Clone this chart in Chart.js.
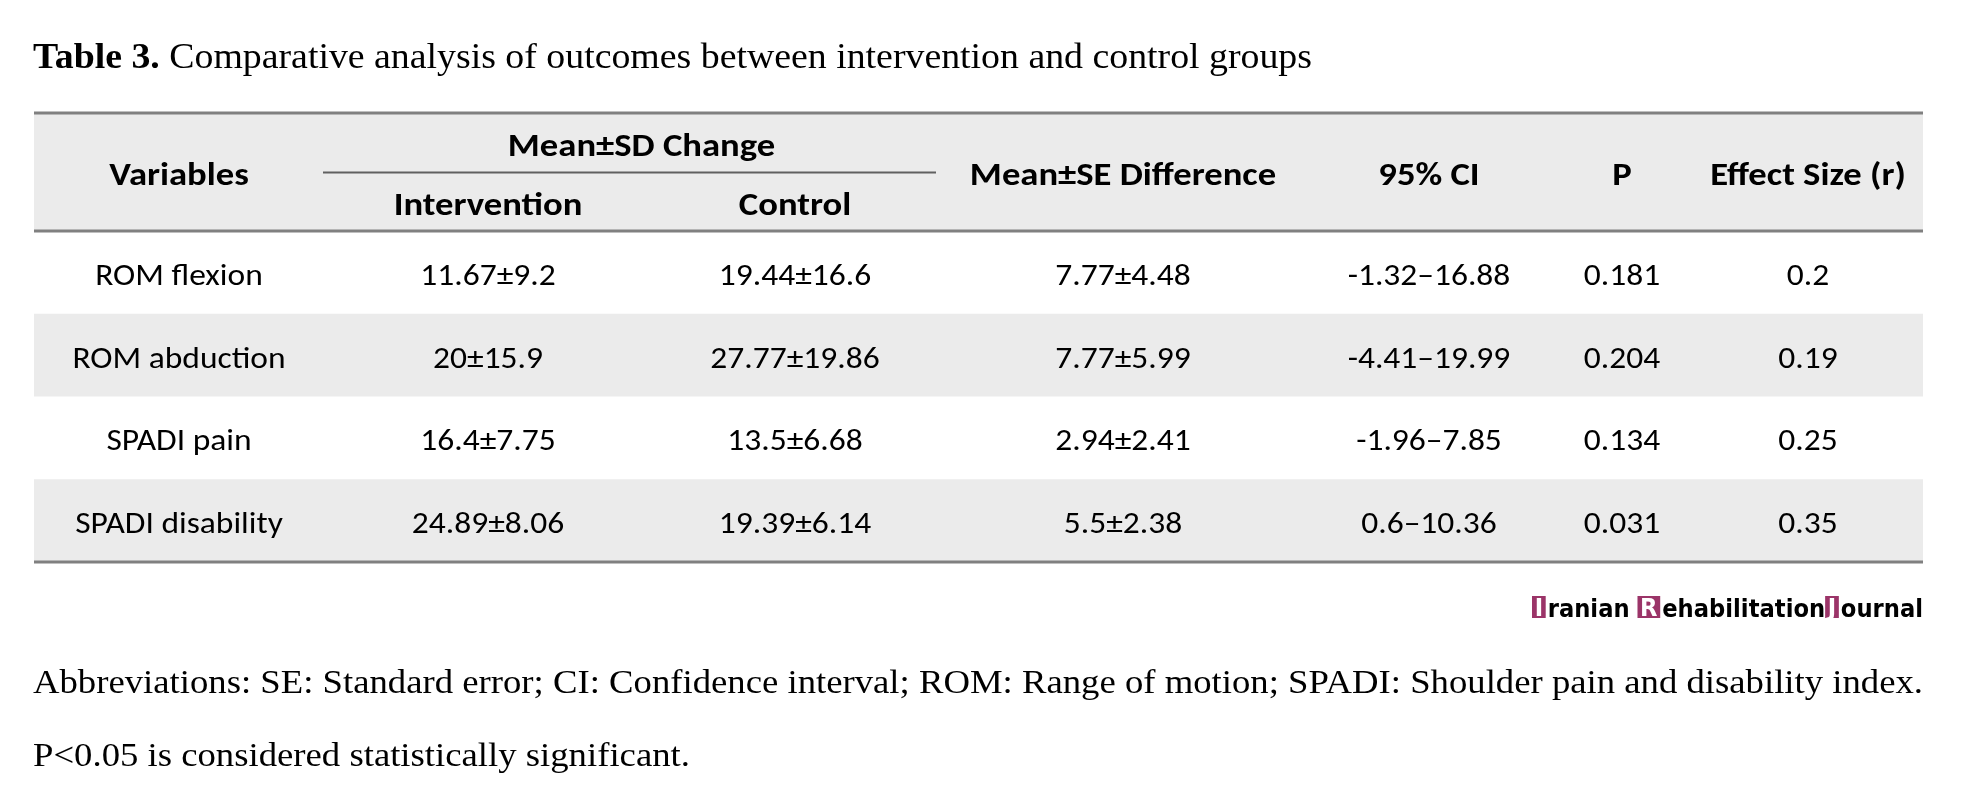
<!DOCTYPE html>
<html>
<head>
<meta charset="utf-8">
<script src="https://cdn.jsdelivr.net/npm/chart.js"></script>
<style>
  html, body { margin: 0; padding: 0; background: #ffffff; }
  #wrap { width: 1977px; height: 800px; position: relative; }
</style>
</head>
<body>
<div id="wrap"><canvas id="chart"></canvas></div>
<script>
  // table values
  const variables = ["ROM flexion", "ROM abduction", "SPADI pain", "SPADI disability"];
  const interventionMean = [11.67, 20, 16.4, 24.89];
  const interventionSD = [9.2, 15.9, 7.75, 8.06];
  const controlMean = [19.44, 27.77, 13.5, 19.39];
  const controlSD = [16.6, 19.86, 6.68, 6.14];
  const diffMean = [7.77, 7.77, 2.94, 5.5];
  const diffSE = [4.48, 5.99, 2.41, 2.38];
  const ciLow = [-1.32, -4.41, -1.96, 0.6];
  const ciHigh = [16.88, 19.99, 7.85, 10.36];
  const pValues = [0.181, 0.204, 0.134, 0.031];
  const effectSize = [0.2, 0.19, 0.25, 0.35];

  const headers = ["Variables", "Intervention", "Control", "Mean±SE Difference", "95% CI", "P", "Effect Size (r)"];
  const groupHeader = "Mean±SD Change";

  const titleBold = "Table 3.";
  const titleText = " Comparative analysis of outcomes between intervention and control groups";
  const noteLines = [
    "Abbreviations: SE: Standard error; CI: Confidence interval; ROM: Range of motion; SPADI: Shoulder pain and disability index.",
    "P<0.05 is considered statistically significant."
  ];

  // layout (x in px from table left, y in body-row heights)
  const colCenters = [145, 454, 761, 1089, 1395, 1588, 1774];
  const headerRows = 1.426;
  const tableFont = "'Carlito', 'Liberation Sans Narrow', 'DejaVu Sans Condensed', sans-serif";
  const serifFont = "'Liberation Serif', 'DejaVu Serif', serif";

  const cellText = [
    variables,
    interventionMean.map((m, i) => m + "±" + interventionSD[i]),
    controlMean.map((m, i) => m + "±" + controlSD[i]),
    diffMean.map((m, i) => m + "±" + diffSE[i]),
    ciLow.map((l, i) => l + "–" + ciHigh[i]),
    pValues.map(String),
    effectSize.map(String)
  ];

  function drawText(ctx, text, x, y, font, sx, align) {
    ctx.save();
    ctx.font = font;
    ctx.textBaseline = "alphabetic";
    ctx.textAlign = align || "center";
    ctx.translate(x, y);
    ctx.scale(sx, 1);
    ctx.fillText(text, 0, 0);
    ctx.restore();
  }

  const tablePlugin = {
    id: "tablePlugin",
    beforeDatasetsDraw(chart) {
      const ctx = chart.ctx;
      const xs = chart.scales.x, ys = chart.scales.y;
      const left = xs.left, right = xs.right;
      ctx.save();
      ctx.fillStyle = "#ebebeb";
      const yTop = ys.getPixelForValue(-headerRows);
      const y0 = ys.getPixelForValue(0);
      ctx.fillRect(left, yTop, right - left, y0 - yTop);
      for (let i = 0; i < variables.length; i++) {
        if (i % 2 === 1) {
          const a = ys.getPixelForValue(i), b = ys.getPixelForValue(i + 1);
          ctx.fillRect(left, a, right - left, b - a);
        }
      }
      // rules
      ctx.strokeStyle = "#808080";
      ctx.lineWidth = 3;
      [-headerRows, 0, variables.length].forEach(v => {
        const y = Math.round(ys.getPixelForValue(v));
        ctx.beginPath();
        ctx.moveTo(left, y);
        ctx.lineTo(right, y);
        ctx.stroke();
      });
      // group underline
      const uy = Math.round(ys.getPixelForValue(-0.719)) + 0.5;
      ctx.strokeStyle = "#606060";
      ctx.lineWidth = 2;
      ctx.beginPath();
      ctx.moveTo(xs.getPixelForValue(289), uy);
      ctx.lineTo(xs.getPixelForValue(902), uy);
      ctx.stroke();
      ctx.restore();
    },
    afterDatasetsDraw(chart) {
      const ctx = chart.ctx;
      const xs = chart.scales.x, ys = chart.scales.y;
      ctx.save();
      ctx.fillStyle = "#000000";
      const bold = "bold 33px " + tableFont;
      const normal = "31px " + tableFont;
      // header
      drawText(ctx, groupHeader, xs.getPixelForValue((colCenters[1] + colCenters[2]) / 2), ys.getPixelForValue(-0.906), bold, 1.11);
      headers.forEach((h, c) => {
        const yv = (c === 1 || c === 2) ? -0.193 : -0.556;
        drawText(ctx, h, xs.getPixelForValue(colCenters[c]), ys.getPixelForValue(yv), bold, 1.11);
      });
      // body cells from dataset points
      chart.data.datasets.forEach((ds, c) => {
        const meta = chart.getDatasetMeta(c);
        meta.data.forEach((pt, i) => {
          drawText(ctx, ds.cells[i], pt.x, pt.y + 12.5, normal, 1.08);
        });
      });

      // title
      const tFontB = "bold 35px " + serifFont;
      const tFont = "35px " + serifFont;
      ctx.font = tFontB;
      const wb = ctx.measureText(titleBold).width;
      ctx.font = tFont;
      const wr = ctx.measureText(titleText).width;
      const tScale = (1312 - 33) / (wb + wr);
      drawText(ctx, titleBold, 33, 68, tFontB, tScale, "left");
      drawText(ctx, titleText, 33 + wb * tScale, 68, tFont, tScale, "left");

      // notes
      const nFont = "33px " + serifFont;
      ctx.font = nFont;
      const nScale = (1923 - 33) / ctx.measureText(noteLines[0]).width;
      drawText(ctx, noteLines[0], 33, 693, nFont, nScale, "left");
      drawText(ctx, noteLines[1], 33, 766, nFont, nScale, "left");

      // journal mark
      const parts = [["I", true], ["ranian ", false], ["R", true], ["ehabilitation", false], ["J", true], ["ournal", false]];
      const lFont = "bold 25px 'DejaVu Sans', sans-serif";
      const pad = 8;
      ctx.font = lFont;
      let total = 0;
      parts.forEach(p => { total += ctx.measureText(p[0]).width + (p[1] ? pad : 0); });
      const lScale = (1923 - 1532) / total;
      let lx = 1532;
      const ly = 617;
      parts.forEach(p => {
        const w = (ctx.measureText(p[0]).width + (p[1] ? pad : 0)) * lScale;
        if (p[1]) {
          ctx.fillStyle = "#9b3468";
          ctx.fillRect(lx, ly - 21, w - 2, 22);
          ctx.fillStyle = "#ffffff";
          drawText(ctx, p[0], lx + (w - 2) / 2, ly - 1, lFont, lScale, "center");
        } else {
          ctx.fillStyle = "#000000";
          drawText(ctx, p[0], lx, ly, lFont, lScale, "left");
        }
        lx += w;
      });
      ctx.restore();
    }
  };

  const datasets = cellText.map((col, c) => ({
    label: headers[c],
    cells: col,
    data: col.map((_, i) => ({ x: colCenters[c], y: i + 0.5 })),
    pointRadius: 0,
    pointHoverRadius: 0,
    showLine: false
  }));

  new Chart(document.getElementById("chart"), {
    type: "scatter",
    data: { datasets: datasets },
    options: {
      responsive: true,
      maintainAspectRatio: false,
      animation: false,
      events: [],
      layout: { padding: { left: 34, right: 54, top: 113, bottom: 238 } },
      plugins: { legend: { display: false }, tooltip: { enabled: false } },
      scales: {
        x: { type: "linear", display: false, min: 0, max: 1889 },
        y: { type: "linear", display: false, reverse: true, min: -headerRows, max: variables.length }
      }
    },
    plugins: [tablePlugin]
  });
</script>
</body>
</html>
